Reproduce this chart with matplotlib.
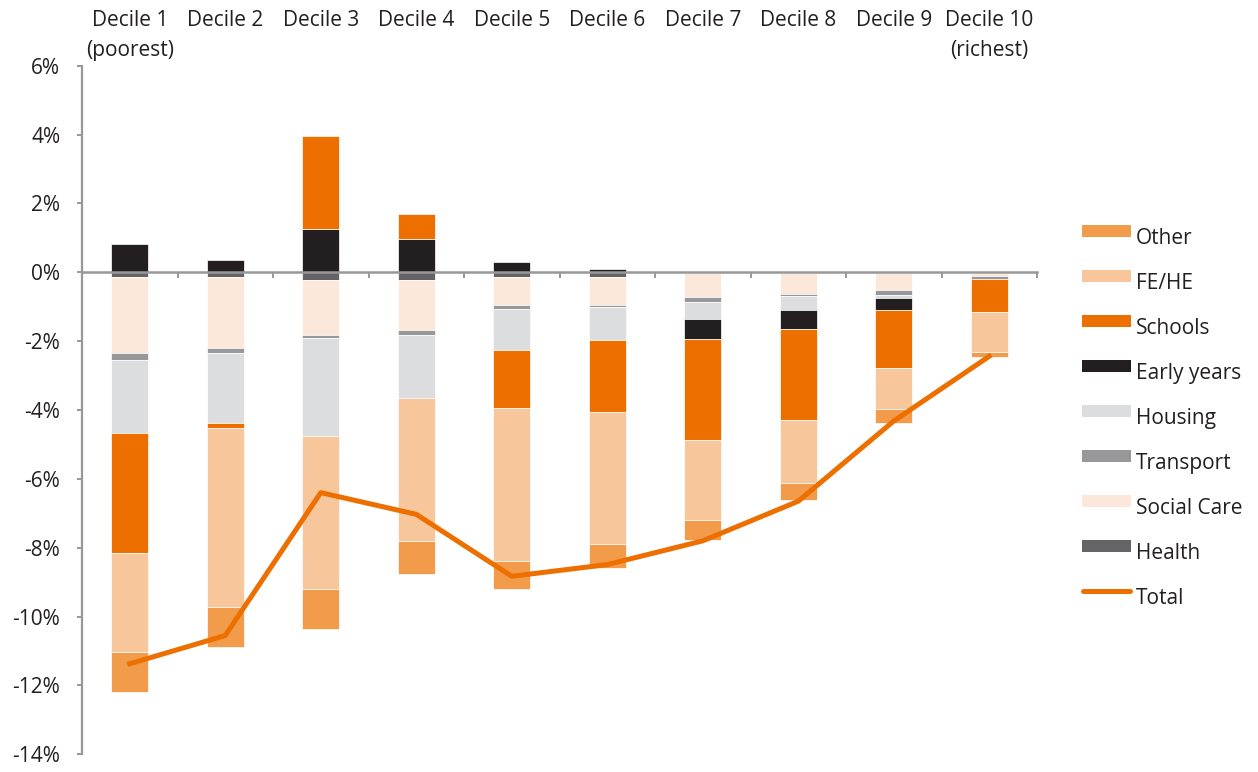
import numpy as np
import matplotlib
matplotlib.use("Agg")
import matplotlib.pyplot as plt
from matplotlib.patches import Rectangle
from matplotlib.lines import Line2D

plt.rcParams['font.family'] = ['Open Sans', 'DejaVu Sans']

# ---- data (percent change) ----
deciles = ["Decile 1\n(poorest)", "Decile 2", "Decile 3", "Decile 4", "Decile 5",
           "Decile 6", "Decile 7", "Decile 8", "Decile 9", "Decile 10\n(richest)"]
health      = [-0.13, -0.13, -0.22, -0.22, -0.13, -0.13, -0.03, -0.03, -0.03, -0.02]
social_care = [-2.21, -2.06, -1.60, -1.45, -0.81, -0.81, -0.69, -0.61, -0.48, -0.10]
transport   = [-0.20, -0.15, -0.08, -0.15, -0.14, -0.06, -0.13, -0.06, -0.15, -0.08]
housing     = [-2.12, -2.04, -2.85, -1.83, -1.17, -0.96, -0.52, -0.39, -0.08, 0.00]
early_years = [0.81, 0.37, 1.25, 0.96, 0.31, 0.09, -0.58, -0.57, -0.36, 0.00]
schools     = [-3.49, -0.13, 2.70, 0.73, -1.68, -2.11, -2.91, -2.63, -1.68, -0.94]
fe_he       = [-2.88, -5.20, -4.46, -4.16, -4.46, -3.81, -2.34, -1.84, -1.18, -1.18]
other       = [-1.16, -1.16, -1.15, -0.94, -0.80, -0.72, -0.59, -0.49, -0.43, -0.14]
total       = [-11.37, -10.55, -6.40, -7.03, -8.83, -8.49, -7.80, -6.65, -4.32, -2.44]

series_names = ["Health", "Social Care", "Transport", "Housing",
                "Early years", "Schools", "FE/HE", "Other"]
series_vals = [health, social_care, transport, housing, early_years, schools, fe_he, other]
series_cols = ["#646466", "#FCE8DA", "#98989B", "#DCDDDF",
               "#231F20", "#EC6F00", "#F8C69B", "#F29B4B"]
total_col = "#EC6F00"
text_col = "#231F20"
axis_col = "#98989B"

W, H = 1258, 772
fig = plt.figure(figsize=(W / 100, H / 100), dpi=100)
ax = fig.add_axes([82 / W, 1 - 754.3 / H, (1037 - 82) / W, (754.3 - 65.7) / H])

x = np.arange(len(deciles))
pos_bottom = np.zeros(len(x))
neg_bottom = np.zeros(len(x))
for name, vals, col in zip(series_names, series_vals, series_cols):
    v = np.array(vals, dtype=float)
    bottom = np.where(v >= 0, pos_bottom, neg_bottom)
    ax.bar(x, v, 0.39, bottom=bottom, color=col, edgecolor='white',
           linewidth=0.5, zorder=1)
    pos_bottom = pos_bottom + np.where(v > 0, v, 0)
    neg_bottom = neg_bottom + np.where(v < 0, v, 0)

ax.plot(x, total, color=total_col, linewidth=3.6, zorder=3)

ax.set_xlim(-0.5, len(x) - 0.5)
ax.set_ylim(-14, 6)
ax.set_yticks(np.arange(-14, 7, 2))
ax.set_yticklabels([f"{t}%" for t in range(-14, 7, 2)])
ax.set_xticks(np.arange(-0.5, len(x), 1))
ax.set_xticklabels([])

for s in ['top', 'right']:
    ax.spines[s].set_visible(False)
ax.spines['left'].set_color(axis_col)
ax.spines['left'].set_linewidth(1.6)
ax.spines['bottom'].set_position(('data', 0))
ax.spines['bottom'].set_color(axis_col)
ax.spines['bottom'].set_linewidth(1.8)
ax.tick_params(axis='y', direction='out', length=3.6, width=1.4, color=axis_col,
               labelsize=15, labelcolor=text_col, pad=12)
ax.tick_params(axis='x', direction='out', length=4.3, width=1.4, color=axis_col)

# category labels at top
for xi, lab in zip(x, deciles):
    lines = lab.split("\n")
    xf = ax.transData.transform((xi, 0))[0]
    for k, ln in enumerate(lines):
        fig.text(xf / W, 1 - (26 + 30 * k) / H, ln, ha='center', va='baseline',
                 fontsize=15, color=text_col)

# legend (manual, matches Excel layout)
leg_names = ["Other", "FE/HE", "Schools", "Early years", "Housing",
             "Transport", "Social Care", "Health"]
leg_cols = dict(zip(series_names, series_cols))
y0 = 230.7
for i, nm in enumerate(leg_names):
    yc = y0 + 45 * i
    fig.add_artist(Rectangle((1082 / W, 1 - (yc + 6) / H), 49 / W, 12 / H,
                             transform=fig.transFigure, facecolor=leg_cols[nm],
                             edgecolor='none'))
    fig.text(1136 / W, 1 - (yc + 13) / H, nm, ha='left', va='baseline',
             fontsize=15, color=text_col)
yc = y0 + 45 * 8
fig.add_artist(Line2D([1083 / W, 1130 / W], [1 - yc / H, 1 - yc / H],
                      transform=fig.transFigure, color=total_col, linewidth=3.6,
                      solid_capstyle='round'))
fig.text(1136 / W, 1 - (yc + 13) / H, "Total", ha='left', va='baseline',
         fontsize=15, color=text_col)

fig.savefig("out.png", dpi=100)
